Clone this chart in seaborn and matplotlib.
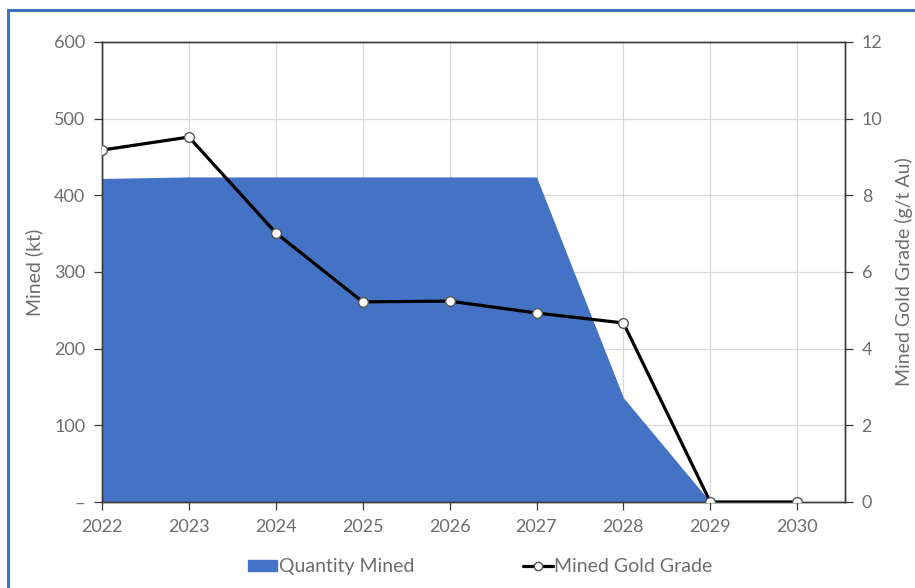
import matplotlib
matplotlib.use("Agg")
import matplotlib.pyplot as plt
import matplotlib.patches as mpatches
from matplotlib.lines import Line2D
import seaborn as sns
import pandas as pd

years = [2022, 2023, 2024, 2025, 2026, 2027, 2028, 2029, 2030]
quantity_mined_kt = [422, 424, 424, 424, 424, 424, 136, 0, 0]
gold_grade_gt = [9.18, 9.52, 7.02, 5.22, 5.24, 4.93, 4.67, 0, 0]
left_ticks = [0, 100, 200, 300, 400, 500, 600]
left_tick_labels = ["–", "100", "200", "300", "400", "500", "600"]
right_ticks = [0, 2, 4, 6, 8, 10, 12]

df = pd.DataFrame({"year": years, "mined": quantity_mined_kt, "grade": gold_grade_gt})

sns.set_theme(style="white")
plt.rcParams["font.family"] = ["Lato", "DejaVu Sans"]
text_color = "#6e6e6e"
grid_color = "#d9d9d9"
area_color = "#4472C4"

fig = plt.figure(figsize=(9.15, 5.88), dpi=100)
ax = fig.add_axes([0.1115, 0.1463, 0.8120, 0.7823])
ax2 = ax.twinx()

# Quantity mined as a filled area
ax.fill_between(df["year"], df["mined"], 0, color=area_color, linewidth=0, zorder=2)
ax.set_xlim(2022, 2030.55)
ax.set_ylim(0, 600)
ax.set_yticks(left_ticks)
ax.set_yticklabels(left_tick_labels)
ax.set_xticks(years)
ax.set_xticklabels([str(y) for y in years])
ax.grid(True, color=grid_color, linewidth=0.9, zorder=0)
ax.set_axisbelow(True)
ax.set_ylabel("Mined (kt)", color=text_color, fontsize=14, labelpad=8)

# Gold grade on the secondary axis
sns.lineplot(data=df, x="year", y="grade", ax=ax2, color="black", linewidth=2.3,
             marker="o", markersize=7, markerfacecolor="white",
             markeredgecolor="#555555", markeredgewidth=1.0, zorder=5)
ax2.set_ylim(0, 12)
ax2.set_yticks(right_ticks)
ax2.set_ylabel("Mined Gold Grade (g/t Au)", color=text_color, fontsize=14, labelpad=9)
ax2.set_xlabel("")
ax2.grid(False)

for a in (ax, ax2):
    for s in a.spines.values():
        s.set_color("#3a3a3a")
        s.set_linewidth(1.0)
    a.tick_params(colors="#3a3a3a", labelcolor=text_color, labelsize=13,
                  length=6, width=0.9, direction="out")
ax.tick_params(axis="x", pad=6, bottom=True)
ax.tick_params(axis="y", pad=6, left=True)
ax2.tick_params(axis="y", pad=6, right=True)

# Legend below the plot
handles = [
    mpatches.Patch(color=area_color, label="Quantity Mined"),
    Line2D([0], [0], color="black", linewidth=2.3, marker="o", markersize=6,
           markerfacecolor="white", markeredgecolor="#555555", label="Mined Gold Grade"),
]
fig.legend(handles=handles, loc="center", bbox_to_anchor=(0.525, 0.036), ncol=2,
           frameon=False, fontsize=14, labelcolor=text_color, handlelength=1.5,
           handleheight=0.55, handletextpad=0.1, columnspacing=5.6)

# Outer frame
fig.patches.append(mpatches.Rectangle((8 / 915, -0.1), 1.2, 1.1 - 10 / 588,
                                      transform=fig.transFigure, fill=False,
                                      edgecolor="#3A74C0", linewidth=2.2))

fig.savefig("out.png", dpi=100)
